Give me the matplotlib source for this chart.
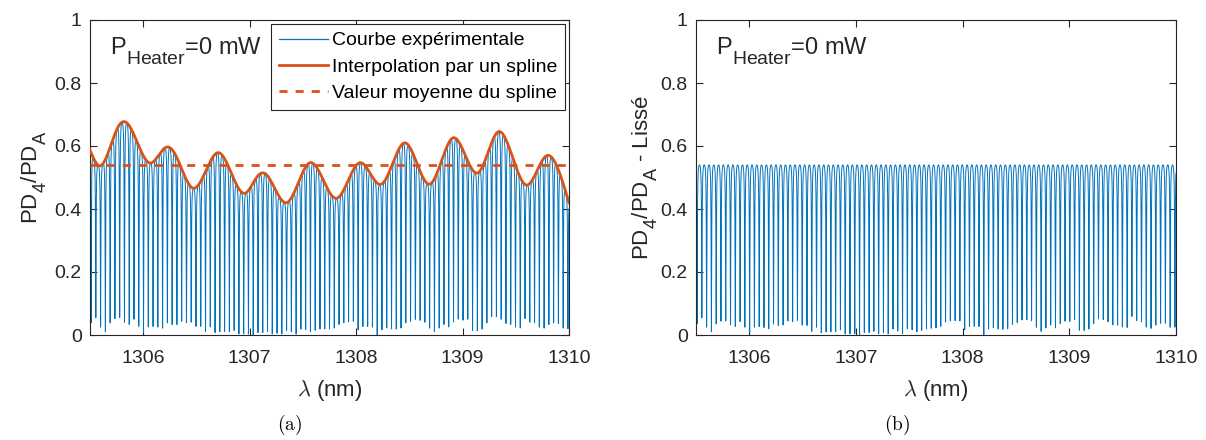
import numpy as np
import matplotlib
matplotlib.use('Agg')
import matplotlib.pyplot as plt
from matplotlib.lines import Line2D
try:
    import matplotlib._mathtext as _mt
    _mt.SHRINK_FACTOR = 0.82
    _mt.FontConstantsBase.sub1 = 0.8
    _mt.FontConstantsBase.sub2 = 0.8
except Exception:
    pass

# ---------------- data ----------------
# knots of the spline envelope (wavelength in nm, PD4/PDA)
spline_wl = [1305.500, 1305.594, 1305.766, 1305.844, 1306.063, 1306.214, 1306.298,
             1306.470, 1306.705, 1306.955, 1307.065, 1307.143, 1307.347, 1307.566,
             1307.816, 1308.035, 1308.239, 1308.458, 1308.692, 1308.911, 1309.146,
             1309.334, 1309.600, 1309.788, 1310.000]
spline_val = [0.587, 0.537, 0.662, 0.674, 0.546, 0.596, 0.575,
              0.466, 0.579, 0.450, 0.500, 0.513, 0.420, 0.547,
              0.434, 0.547, 0.479, 0.610, 0.479, 0.626, 0.515,
              0.645, 0.476, 0.569, 0.420]
spline_mean = 0.54

# resonance dips: first dip, spacing, and minimum value of each dip
first_dip_wl = 1305.51
fringe_period = 0.0448
dip_min = [0.037, 0.053, 0.024, 0.010, 0.037, 0.050, 0.053, 0.039, 0.032, 0.048,
           0.026, 0.007, 0.024, 0.026, 0.024, 0.021, 0.037, 0.032, 0.032, 0.042,
           0.037, 0.039, 0.026, 0.026, 0.010, 0.024, 0.007, 0.010, 0.010, 0.010,
           0.014, 0.003, 0.003, 0.003, 0.000, 0.007, 0.007, 0.010, 0.003, 0.005,
           0.003, 0.014, 0.010, 0.003, 0.018, 0.016, 0.010, 0.014, 0.018, 0.018,
           0.018, 0.021, 0.032, 0.037, 0.040, 0.042, 0.016, 0.026, 0.026, 0.024,
           0.000, 0.016, 0.021, 0.018, 0.018, 0.021, 0.037, 0.042, 0.048, 0.045,
           0.039, 0.021, 0.010, 0.021, 0.032, 0.024, 0.039, 0.048, 0.045, 0.048,
           0.014, 0.013, 0.018, 0.037, 0.056, 0.056, 0.048, 0.035, 0.032, 0.024,
           0.021, 0.050, 0.039, 0.037, 0.024, 0.021, 0.032, 0.037, 0.035, 0.021,
           0.019]
finesse_coeff = 25.0

x_ticks = [1306, 1307, 1308, 1309, 1310]
y_ticks = [0, 0.2, 0.4, 0.6, 0.8, 1]
y_ticklabels = ['0', '0.2', '0.4', '0.6', '0.8', '1']
legend_labels = ['Courbe expérimentale', 'Interpolation par un spline',
                 'Valeur moyenne du spline']

# ---------------- construction ----------------
def natural_cubic(xk, yk, x):
    xk = np.asarray(xk, float); yk = np.asarray(yk, float)
    n = len(xk)
    h = np.diff(xk)
    A = np.zeros((n, n)); r = np.zeros(n)
    A[0, 0] = A[-1, -1] = 1.0
    for i in range(1, n - 1):
        A[i, i - 1] = h[i - 1]; A[i, i] = 2 * (h[i - 1] + h[i]); A[i, i + 1] = h[i]
        r[i] = 3 * ((yk[i + 1] - yk[i]) / h[i] - (yk[i] - yk[i - 1]) / h[i - 1])
    c = np.linalg.solve(A, r)
    b = (yk[1:] - yk[:-1]) / h - h * (2 * c[:-1] + c[1:]) / 3
    d = (c[1:] - c[:-1]) / (3 * h)
    idx = np.clip(np.searchsorted(xk, x) - 1, 0, n - 2)
    dx = x - xk[idx]
    return yk[idx] + b[idx] * dx + c[idx] * dx ** 2 + d[idx] * dx ** 3

wl = np.linspace(spline_wl[0], spline_wl[-1], 24000)
env = natural_cubic(spline_wl, spline_val, wl)
mins = np.asarray(dip_min)
k = np.clip(np.round((wl - first_dip_wl) / fringe_period).astype(int), 0, len(mins) - 1)
depth = 1.0 - mins[k] / env
s2 = np.sin(np.pi * (wl - first_dip_wl) / fringe_period) ** 2
T = (1 - depth / (1 + finesse_coeff * s2)) / (1 - depth / (1 + finesse_coeff))
curve_a = env * T
curve_b = spline_mean * T

# ---------------- figure ----------------
plt.rcParams['font.family'] = ['Liberation Sans', 'DejaVu Sans']
plt.rcParams['mathtext.fontset'] = 'custom'
plt.rcParams['mathtext.rm'] = 'Liberation Sans'
plt.rcParams['mathtext.it'] = 'Liberation Sans:italic'
plt.rcParams['mathtext.bf'] = 'Liberation Sans:bold'

BLUE = '#0072BD'
ORANGE = '#D95319'
AXC = '#262626'

fig = plt.figure(figsize=(12.06, 4.40), dpi=100)
W, H = 1206, 440
ax1 = fig.add_axes([90 / W, (H - 335) / H, 479 / W, 315 / H])
ax2 = fig.add_axes([696 / W, (H - 335) / H, 480 / W, 315 / H])

def style(ax, ylabel, ylab_x):
    ax.set_xlim(1305.5, 1310)
    ax.set_ylim(0, 1)
    ax.set_xticks(x_ticks)
    ax.set_xticklabels([str(t) for t in x_ticks])
    ax.set_yticks(y_ticks)
    ax.set_yticklabels(y_ticklabels)
    ax.tick_params(direction='in', length=5, width=0.8, top=True, right=True,
                   labelsize=14, colors=AXC)
    ax.tick_params(axis='x', pad=11)
    ax.tick_params(axis='y', pad=6)
    for sp in ax.spines.values():
        sp.set_linewidth(0.8)
        sp.set_color(AXC)
    ax.set_xlabel(r'$\lambda$ (nm)', fontsize=16, math_fontfamily='cm', color=AXC)
    ax.xaxis.set_label_coords(0.5, -0.135)
    ax.set_ylabel(ylabel, fontsize=16, color=AXC)
    ax.yaxis.set_label_coords(ylab_x, 0.5)
    ax.text(20 / 479, 0.889, r'P$_{\mathrm{Heater}}$=0 mW', transform=ax.transAxes,
            fontsize=17, va='baseline', ha='left', color=AXC)

ax1.plot(wl, curve_a, color=BLUE, lw=0.7, zorder=2)
ax1.plot(wl, env, color=ORANGE, lw=2.0, zorder=3)
ax1.axhline(spline_mean, color=ORANGE, lw=2.0, ls=(0, (2.9, 2.9)), zorder=3)
style(ax1, r'PD$_{\mathrm{4}}$/PD$_{\mathrm{A}}$', -0.085)

handles = [Line2D([], [], color=BLUE, lw=0.9),
           Line2D([], [], color=ORANGE, lw=2.0),
           Line2D([], [], color=ORANGE, lw=2.0, ls=(0, (2.9, 2.9)))]
leg = ax1.legend(handles, legend_labels, loc='upper right', bbox_to_anchor=(0.991, 0.987),
                 borderaxespad=0, fontsize=14, frameon=True, fancybox=False,
                 framealpha=1, edgecolor=AXC, handlelength=2.5, handletextpad=0.2,
                 borderpad=0.4, labelspacing=0.45)
leg.get_frame().set_linewidth(0.8)

ax2.plot(wl, curve_b, color=BLUE, lw=0.7, zorder=2)
style(ax2, r'PD$_{\mathrm{4}}$/PD$_{\mathrm{A}}$ - Lissé', -0.075)

fig.text(290 / W, 1 - 425 / H, r'$\mathrm{(a)}$', math_fontfamily='cm', fontsize=14,
         ha='center', va='center')
fig.text(897 / W, 1 - 425 / H, r'$\mathrm{(b)}$', math_fontfamily='cm', fontsize=14,
         ha='center', va='center')

fig.savefig('out.png', dpi=100)
